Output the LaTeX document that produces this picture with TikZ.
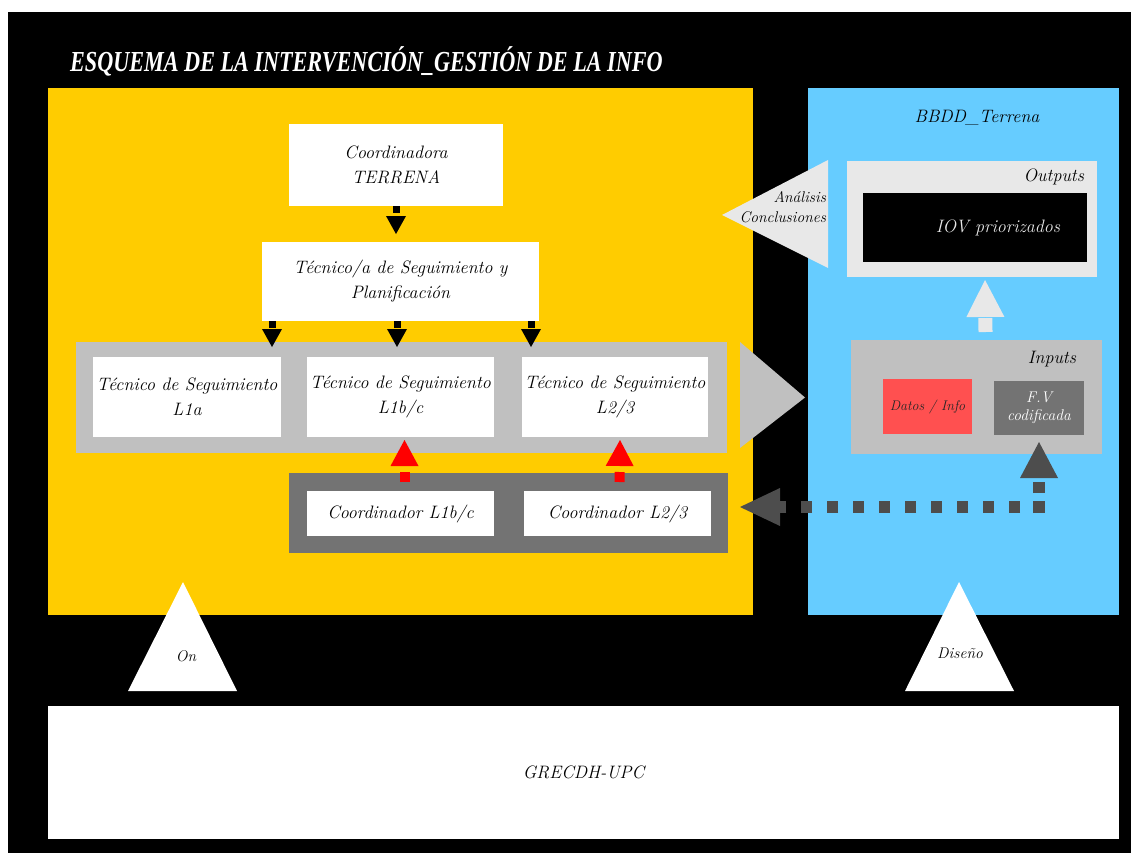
\documentclass[tikz,border=0pt]{standalone}
\usepackage{fontspec}
\newfontfamily\titlefont[FakeStretch=0.765]{Liberation Serif}
\usetikzlibrary{arrows.meta}
\definecolor{yel}{HTML}{FFCC00}
\definecolor{sky}{HTML}{66CCFF}
\definecolor{bandc}{HTML}{C0C0C0}
\definecolor{dgray}{HTML}{737373}
\definecolor{lgray}{HTML}{E8E8E8}
\definecolor{dotc}{HTML}{4D4D4D}
\definecolor{datred}{HTML}{FF5050}
\newcommand\mainf{\fontsize{18}{25}\selectfont\itshape}
\newcommand\smallf{\fontsize{15.5}{19}\selectfont\itshape}
\tikzset{
  box/.style={inner sep=0pt, outer sep=0pt, align=center, font=\mainf},
  lbl/.style={inner sep=0pt, outer sep=0pt, align=center, font=\mainf},
  slbl/.style={inner sep=0pt, outer sep=0pt, font=\smallf},
  blkarrow/.style={draw=black, line width=7pt, dash pattern=on 7pt off 40pt,
    -{Triangle[length=18pt,width=20pt,line width=0pt]}},
  redarrow/.style={draw=red, line width=10pt, dash pattern=on 10pt off 40pt,
    -{Triangle[length=26pt,width=28pt,line width=0pt]}},
  lgarrow/.style={draw=lgray, line width=14pt, dash pattern=on 14pt off 60pt,
    -{Triangle[length=37pt,width=38pt,line width=0pt]}},
  dotup/.style={draw=dotc, line width=12pt, dash pattern=on 12pt off 8pt on 11pt off 60pt,
    -{Triangle[length=36pt,width=38pt,line width=0pt]}},
  dotleft/.style={draw=dotc, line width=12pt, dash pattern=on 11pt off 15pt, dash phase=13pt,
    -{Triangle[length=40pt,width=38pt,line width=0pt]}}
}
\begin{document}
\begin{tikzpicture}[x=1pt,y=-1pt]
\useasboundingbox (0,0) rectangle (1131,853);
\fill[white] (0,0) rectangle (1131,853);
\fill[black] (8,12) rectangle (1131,853);

\node[anchor=base west, inner sep=0pt, text=white,
  font=\titlefont\fontsize{29}{30}\selectfont\bfseries\itshape] (title) at (70,72)
  {ESQUEMA DE LA INTERVENCIÓN\_GESTIÓN DE LA INFO};

% main panels
\node[box, fill=yel, minimum width=705pt, minimum height=527pt] (yellow) at (400.5,351.5) {};
\node[box, fill=sky, minimum width=311pt, minimum height=527pt] (blue) at (963.5,351.5) {};

% hierarchy
\node[box, fill=white, minimum width=214pt, minimum height=82pt] (coord) at (396,165) {Coordinadora\\TERRENA};
\node[box, fill=white, minimum width=277pt, minimum height=79pt] (tsp) at (400.5,281.5) {Técnico/a de Seguimiento y\\Planificación};
\node[box, fill=bandc, minimum width=651pt, minimum height=111pt] (band) at (401.5,397.5) {};
\node[box, fill=white, minimum width=188pt, minimum height=80pt] (l1a) at (187,397) {Técnico de Seguimiento\\L1a};
\node[box, fill=white, minimum width=187pt, minimum height=80pt] (l1b) at (400.5,397) {Técnico de Seguimiento\\L1b/c};
\node[box, fill=white, minimum width=186pt, minimum height=80pt] (l23) at (615,397) {Técnico de Seguimiento\\L2/3};

\node[box, fill=dgray, minimum width=439pt, minimum height=80pt] (cbox) at (508.5,513) {};
\node[box, fill=white, minimum width=187pt, minimum height=45pt] (cl1b) at (400.5,513.5) {Coordinador L1b/c};
\node[box, fill=white, minimum width=187pt, minimum height=45pt] (cl23) at (617.5,513.5) {Coordinador L2/3};

% big gray arrow to inputs
\fill[bandc] ([xshift=13pt]band.north east) -- ([xshift=-3pt]blue.west |- band.center) -- ([xshift=13pt,yshift=5pt]band.south east) -- cycle;

% BBDD side
\node[lbl] (bbdd) at (977,118) {BBDD\_Terrena};
\node[box, fill=lgray, minimum width=250pt, minimum height=116pt] (outputs) at (972,219) {};
\node[lbl, anchor=east] (outl) at (1084,177) {Outputs};
\node[box, fill=black, text=lgray, minimum width=224pt, minimum height=69pt] (iov) at (975,227.5) {\hspace*{46pt}IOV priorizados};
\fill[lgray] (828,160) -- (722,215) -- (828,268) -- cycle;
\node[slbl, align=right, anchor=east, font=\fontsize{15.5}{20}\selectfont\itshape] (anl) at (826,207) {Análisis\\Conclusiones};

\node[box, fill=bandc, minimum width=251pt, minimum height=114pt] (inputs) at (976.5,397) {};
\node[lbl, anchor=east] (inl) at (1076,359) {Inputs};
\node[box, fill=datred, text=black!85, font=\fontsize{14}{18}\selectfont\itshape, minimum width=89pt, minimum height=55pt] (datos) at (927.5,406.5) {Datos / Info};
\node[box, fill=dgray, text=white, font=\fontsize{15.5}{18}\selectfont\itshape, minimum width=90pt, minimum height=54pt] (fv) at (1039,408) {F.V\\codificada};

% connectors
\draw[blkarrow] (coord.south) -- ([yshift=-28pt]coord.south);
\draw[blkarrow] (tsp.south -| 272,0) -- ([yshift=-26pt]tsp.south -| 272,0);
\draw[blkarrow] ([xshift=-3.5pt]tsp.south) -- ([xshift=-3.5pt,yshift=-26pt]tsp.south);
\draw[blkarrow] (tsp.south -| 531,0) -- ([yshift=-26pt]tsp.south -| 531,0);

\draw[redarrow] ([xshift=4pt,yshift=9pt]cl1b.north) -- ([xshift=4pt,yshift=-3pt]l1b.south);
\draw[redarrow] ([xshift=2pt,yshift=9pt]cl23.north) -- ([xshift=5pt,yshift=-3pt]l23.south);

\draw[lgarrow] ([xshift=9pt,yshift=8pt]inputs.north) -- ([xshift=13pt,yshift=-3pt]outputs.south);

\coordinate (fvtip) at ([yshift=-7pt]fv.south);
\coordinate (corner) at ([yshift=-78pt]fv.south);
\coordinate (cbtip) at ([xshift=12pt,yshift=6pt]cbox.east);
\draw[dotup] (corner) -- (fvtip);
\draw[dotleft] ([xshift=-6pt,yshift=6pt]corner) -- (cbtip);

% bottom
\fill[white] (183,582) -- (128,691) -- (237,691) -- cycle;
\node[slbl] (on) at (186,656) {On};
\fill[white] (959,582) -- (905,691) -- (1014,691) -- cycle;
\node[slbl] (dis) at (960,653) {Diseño};
\node[box, fill=white, minimum width=1071pt, minimum height=133pt] (grec) at (583.5,772.5) {GRECDH-UPC};
\end{tikzpicture}
\end{document}
